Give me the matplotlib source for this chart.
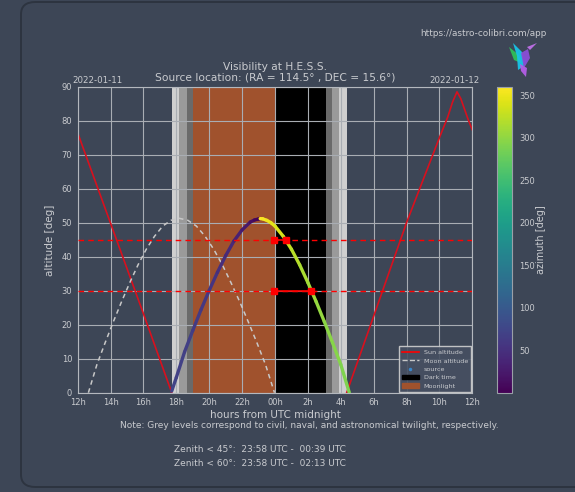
import numpy as np
import matplotlib
matplotlib.use("Agg")
import matplotlib.pyplot as plt
from matplotlib.collections import LineCollection
from matplotlib.lines import Line2D
from matplotlib.patches import Patch, FancyBboxPatch, Polygon

# hours relative to UTC midnight of 2022-01-12
sun_t_set = [-12.0, -10.0, -8.0, -6.28]
sun_alt_set = [76.4, 49.8, 23.2, 0.0]
sun_t_rise = [4.36, 6.0, 8.0, 10.0, 10.5, 10.8, 11.07, 11.3, 11.76, 12.0]
sun_alt_rise = [0.0, 22.5, 50.0, 75.0, 81.0, 85.5, 88.5, 86.5, 80.2, 77.3]

moon_t = [-11.35, -10.83, -10.33, -9.83, -9.33, -8.83, -8.33, -7.83, -7.33, -6.83,
          -6.33, -5.83, -5.3, -4.78, -4.25, -3.73, -3.2, -2.68, -2.15, -1.63,
          -1.1, -0.58, -0.03]
moon_alt = [0.0, 8.3, 14.7, 20.9, 26.8, 32.4, 37.6, 42.2, 46.0, 49.0,
            50.7, 51.3, 50.7, 49.0, 46.0, 42.2, 37.6, 32.4, 26.8, 20.9,
            14.7, 8.3, 0.0]

src_t = [-6.28, -6.0, -5.5, -5.0, -4.5, -4.0, -3.5, -3.0, -2.5, -2.0, -1.5, -1.25,
         -1.0, -0.9, -0.75, -0.5, -0.25, 0.0, 0.5, 1.0, 1.5, 2.0, 2.5, 3.0, 3.5,
         4.0, 4.52]
src_alt = [0.5, 4.5, 12.0, 18.3, 24.4, 30.1, 35.4, 40.3, 44.6, 47.9, 50.2, 50.8,
           51.1, 51.2, 51.15, 50.7, 50.0, 49.0, 46.0, 42.2, 37.6, 32.4, 26.8, 20.9,
           14.7, 8.3, 0.0]
src_az = [72, 70, 67, 63, 59, 54, 48, 41, 33, 24, 13, 7,
          2.5, 359.9, 357, 351, 346, 340, 330, 322, 314, 308, 303, 298, 295,
          291, 288]

# twilight / moon / dark intervals
civil = [(-6.28, -5.82), (3.89, 4.36)]
nautical = [(-5.82, -5.33), (3.45, 3.89)]
astro = [(-5.33, -5.0), (3.085, 3.45)]
moonlight = (-5.0, 0.0)
dark = (0.0, 3.085)

# zenith windows: altitude limit, start, end
win_alt = [45, 30]
win_start = [-0.033, -0.033]
win_end = [0.65, 2.217]

xticks = list(range(-12, 13, 2))
xtick_labels = ["12h", "14h", "16h", "18h", "20h", "22h", "00h",
                "2h", "4h", "6h", "8h", "10h", "12h"]

BG = "#3d4656"
TXT = "#c9cbcf"
W, H = 575, 492

fig = plt.figure(figsize=(W / 100, H / 100), dpi=100, facecolor=BG)

def fx(px):
    return px / W

def fy(py):
    return 1 - py / H

card = FancyBboxPatch((fx(21), fy(487)), fx(620) - fx(21), fy(2) - fy(487),
                      boxstyle="round,pad=0,rounding_size=0.025",
                      transform=fig.transFigure, facecolor=BG,
                      edgecolor="#2d3440", lw=1.4, zorder=-10)
fig.patches.append(card)

ax = fig.add_axes([fx(77.7), fy(392.7), fx(472.3) - fx(77.7), fy(86.7) - fy(392.7)])
ax.set_facecolor(BG)

for a, b in civil:
    ax.axvspan(a, b, color="#cfcfcf", lw=0)
for a, b in nautical:
    ax.axvspan(a, b, color="#9a9a9a", lw=0)
for a, b in astro:
    ax.axvspan(a, b, color="#6a6a6a", lw=0)
ax.axvspan(*moonlight, color="sienna", lw=0)
ax.axvspan(*dark, color="black", lw=0)

ax.plot(sun_t_set, sun_alt_set, color="#d8101e", lw=1.2)
ax.plot(sun_t_rise, sun_alt_rise, color="#d8101e", lw=1.2)
ax.plot(moon_t, moon_alt, color="#c8c8c8", lw=1.1, ls="--", dashes=(3, 2.5))

pts = np.column_stack([src_t, src_alt]).reshape(-1, 1, 2)
segs = np.concatenate([pts[:-1], pts[1:]], axis=1)
lc = LineCollection(segs, cmap="viridis", norm=plt.Normalize(0, 360),
                    lw=2.4, capstyle="round", joinstyle="round", zorder=3)
lc.set_array(np.array(src_az[:-1], dtype=float))
ax.add_collection(lc)

for alt, s, e in zip(win_alt, win_start, win_end):
    ax.axhline(alt, color="red", lw=1, ls="--", dashes=(4, 3), zorder=3)
    ax.plot([s, e], [alt, alt], color="red", lw=1.2, marker="s", ms=4, zorder=4)

ax.set_xlim(-12, 12)
ax.set_ylim(0, 90)
ax.set_xticks(xticks)
ax.set_xticklabels(xtick_labels)
ax.set_yticks(range(0, 91, 10))
ax.grid(True, color="#a9adb3", lw=0.8)
ax.tick_params(colors=TXT, labelsize=6, length=0, pad=4)
for sp in ax.spines.values():
    sp.set_color("#b4b8be")
    sp.set_linewidth(0.8)

handles = [Line2D([], [], color="red", lw=1.2),
           Line2D([], [], color="#c8c8c8", lw=1, ls="--"),
           Line2D([], [], color="#3a86c8", marker=".", ls="", ms=3),
           Patch(color="black"), Patch(color="sienna")]
labels = ["Sun altitude", "Moon altitude", "source", "Dark time", "Moonlight"]
leg = ax.legend(handles, labels, loc="lower right", fontsize=4.6,
                borderaxespad=0.15, facecolor="#465062", edgecolor="#d0d0d0",
                framealpha=0.9, labelcolor=TXT, handlelength=2.6,
                labelspacing=0.45, borderpad=0.5, fancybox=False)
leg.set_zorder(6)

cax = fig.add_axes([fx(497), fy(392.7), fx(512) - fx(497), fy(86.7) - fy(392.7)])
cb = fig.colorbar(lc, cax=cax, ticks=[50, 100, 150, 200, 250, 300, 350])
cb.outline.set_edgecolor("#9aa0a8")
cb.ax.tick_params(colors=TXT, labelsize=6, length=0, pad=5)
fig.text(fx(541), fy(240), "azimuth [deg]", rotation=90, ha="center", va="center",
         color=TXT, fontsize=7)

fig.text(fx(275), fy(69.5), "Visibility at H.E.S.S.", ha="center", va="baseline",
         color=TXT, fontsize=7.65)
fig.text(fx(275), fy(81), "Source location: (RA = 114.5° , DEC = 15.6°)",
         ha="center", va="baseline", color=TXT, fontsize=7.65)
fig.text(fx(97.3), fy(83.3), "2022-01-11", ha="center", va="baseline",
         color=TXT, fontsize=6.2)
fig.text(fx(454.6), fy(83.3), "2022-01-12", ha="center", va="baseline",
         color=TXT, fontsize=6.2)
fig.text(fx(50), fy(240), "altitude [deg]", rotation=90, ha="center", va="center",
         color=TXT, fontsize=7.5)
fig.text(fx(275), fy(418.3), "hours from UTC midnight", ha="center", va="baseline",
         color=TXT, fontsize=7.5)
fig.text(fx(309), fy(428.3),
         "Note: Grey levels correspond to civil, naval, and astronomical twilight, respectively.",
         ha="center", va="baseline", color=TXT, fontsize=6.5)
fig.text(fx(174), fy(451.7), "Zenith < 45°:  23:58 UTC -  00:39 UTC", ha="left",
         va="baseline", color=TXT, fontsize=6.45)
fig.text(fx(174), fy(466), "Zenith < 60°:  23:58 UTC -  02:13 UTC", ha="left",
         va="baseline", color=TXT, fontsize=6.45)
fig.text(fx(483), fy(35.5), "https://astro-colibri.com/app", ha="center",
         va="baseline", color=TXT, fontsize=6.4)

# small colibri logo
bird = [
    ("#2fbf5a", [(509, 47), (519, 55), (521, 63), (514, 60)]),
    ("#19c3e6", [(513, 43), (522, 52), (524, 66), (518, 70), (517, 56)]),
    ("#8a4fd8", [(521, 53), (528, 49), (530, 58), (524, 68)]),
    ("#b45ee6", [(520, 64), (527, 68), (526, 77), (521, 71)]),
    ("#c070e8", [(527, 47), (537, 43), (530, 50)]),
]
for col, poly in bird:
    fig.patches.append(Polygon([(fx(x), fy(y)) for x, y in poly], closed=True,
                               transform=fig.transFigure, facecolor=col,
                               edgecolor="none", alpha=0.95))

fig.savefig("out.png", dpi=100, facecolor=BG)
